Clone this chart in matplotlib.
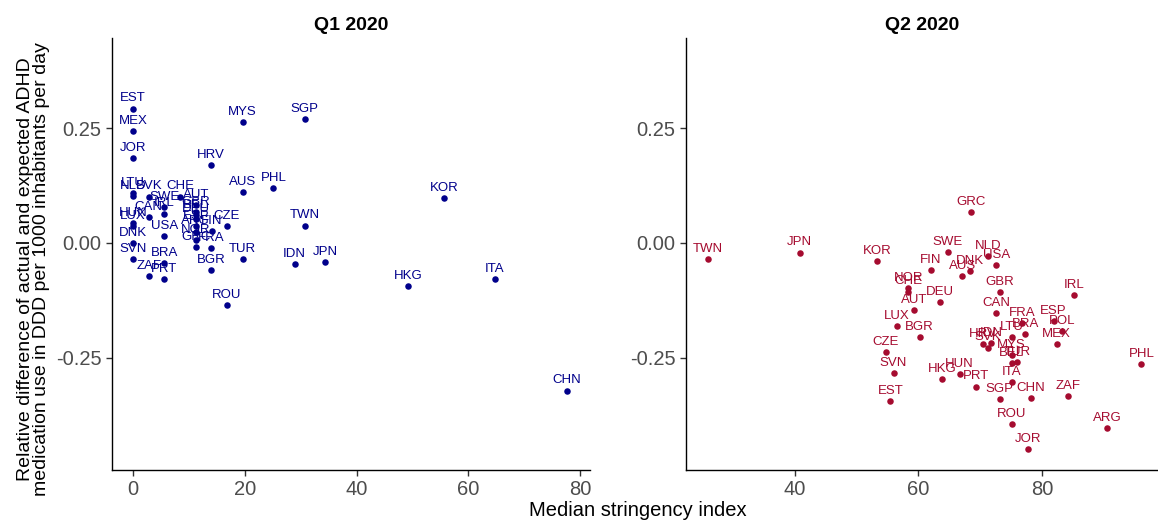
import numpy as np
import matplotlib
matplotlib.use('Agg')
from matplotlib import pyplot as plt

plt.rcParams['font.family'] = ['Liberation Sans', 'DejaVu Sans']

# Q1 2020
q1_pais = ['EST', 'MEX', 'JOR', 'LTU', 'NLD', 'SVK', 'CHE', 'SWE', 'CAN', 'IRL',
           'HUN', 'LUX', 'USA', 'DNK', 'SVN', 'BRA', 'ZAF', 'PRT', 'AUT', 'GBR',
           'BEL', 'DEU', 'ESP', 'ARG', 'NOR', 'GRC', 'FIN', 'FRA', 'CZE', 'HRV',
           'MYS', 'SGP', 'AUS', 'PHL', 'TWN', 'TUR', 'BGR', 'IDN', 'JPN', 'ROU',
           'HKG', 'KOR', 'ITA', 'CHN']
q1_x = [0, 0, 0, 0, 0, 2.8, 8.4, 5.6, 2.8, 5.6,
        0, 0, 5.6, 0, 0, 5.6, 2.8, 5.6, 11.2, 11.2,
        11.2, 11.2, 11.2, 11.2, 11.2, 11.2, 14.1, 14.0, 16.8, 13.9,
        19.6, 30.7, 19.6, 25.1, 30.7, 19.6, 13.9, 28.9, 34.4, 16.8,
        49.2, 55.7, 64.7, 77.7]
q1_y = [0.293, 0.244, 0.185, 0.108, 0.102, 0.101, 0.101, 0.078, 0.057, 0.064,
        0.043, 0.036, 0.015, 0.000, -0.036, -0.043, -0.072, -0.079, 0.083, 0.068,
        0.060, 0.052, 0.037, 0.025, 0.007, -0.009, 0.026, -0.012, 0.037, 0.169,
        0.264, 0.271, 0.111, 0.119, 0.038, -0.036, -0.059, -0.046, -0.041, -0.135,
        -0.094, 0.098, -0.078, -0.322]

# Q2 2020
q2_pais = ['TWN', 'JPN', 'KOR', 'GRC', 'SWE', 'NLD', 'USA', 'DNK', 'AUS', 'FIN',
           'NOR', 'CHE', 'DEU', 'AUT', 'GBR', 'CAN', 'IRL', 'LUX', 'BGR', 'CZE',
           'SVN', 'EST', 'HKG', 'HUN', 'PRT', 'HRV', 'IDN', 'SVK', 'FRA', 'BRA',
           'LTU', 'ESP', 'POL', 'MEX', 'MYS', 'BEL', 'TUR', 'ITA', 'SGP', 'CHN',
           'ZAF', 'ROU', 'JOR', 'ARG', 'PHL']
q2_x = [26.0, 40.8, 53.3, 68.5, 64.8, 71.3, 72.6, 68.4, 67.1, 62.0,
        58.4, 58.4, 63.5, 59.3, 73.2, 72.6, 85.2, 56.5, 60.2, 54.7,
        56.0, 55.5, 63.9, 66.7, 69.4, 70.4, 71.8, 71.3, 76.8, 77.3,
        75.1, 81.9, 83.3, 82.4, 75.1, 75.1, 76.0, 75.1, 73.2, 78.2,
        84.2, 75.1, 77.8, 90.6, 96.1]
q2_y = [-0.035, -0.021, -0.039, 0.068, -0.019, -0.028, -0.048, -0.061, -0.072, -0.060,
        -0.099, -0.106, -0.129, -0.146, -0.107, -0.152, -0.113, -0.182, -0.205, -0.237,
        -0.284, -0.344, -0.296, -0.286, -0.313, -0.221, -0.219, -0.228, -0.174, -0.198,
        -0.205, -0.171, -0.192, -0.221, -0.244, -0.261, -0.259, -0.303, -0.341, -0.338,
        -0.333, -0.394, -0.449, -0.403, -0.264]

ytics = [-0.25, 0.0, 0.25]
ytlab = ['-0.25', '0.00', '0.25']

def panel(ax, pais, x, y, color, titulo, xlim, xtics):
    ax.scatter(x, y, s=22, color=color, zorder=3, linewidths=0)
    for p, xi, yi in zip(pais, x, y):
        ax.annotate(p, (xi, yi), xytext=(0, 3), textcoords='offset points',
                    ha='center', va='bottom', fontsize=9.5, color=color)
    ax.set_xlim(xlim)
    ax.set_ylim(-0.495, 0.447)
    ax.set_xticks(xtics)
    ax.set_xticklabels([str(t) for t in xtics])
    ax.set_yticks(ytics)
    ax.set_yticklabels(ytlab)
    ax.spines['top'].set_visible(False)
    ax.spines['right'].set_visible(False)
    for s in ['left', 'bottom']:
        ax.spines[s].set_linewidth(1.0)
        ax.spines[s].set_color('black')
    ax.tick_params(labelsize=14.5, labelcolor='#4D4D4D', length=4, width=1, color='#333333')
    ax.set_title(titulo, fontsize=14, fontweight='bold', pad=6)

fig = plt.figure(figsize=(11.58, 5.21), dpi=100)

ax1 = fig.add_axes([0.0967, 0.0979, 0.4128, 0.8292])
panel(ax1, q1_pais, q1_x, q1_y, '#00008B', 'Q1 2020', (-3.8, 81.8), [0, 20, 40, 60, 80])

ax2 = fig.add_axes([0.5924, 0.0979, 0.4076, 0.8292])
panel(ax2, q2_pais, q2_x, q2_y, '#A50B2F', 'Q2 2020', (22.4, 98.8), [40, 60, 80])

fig.text(0.029, 0.484, 'Relative difference of actual and expected ADHD\nmedication use in DDD per 1000 inhabitants per day',
         rotation=90, ha='center', va='center', fontsize=14, linespacing=0.95)
fig.text(0.551, 0.002, 'Median stringency index', ha='center', va='bottom', fontsize=14.5)

fig.savefig('out.png', dpi=100)
